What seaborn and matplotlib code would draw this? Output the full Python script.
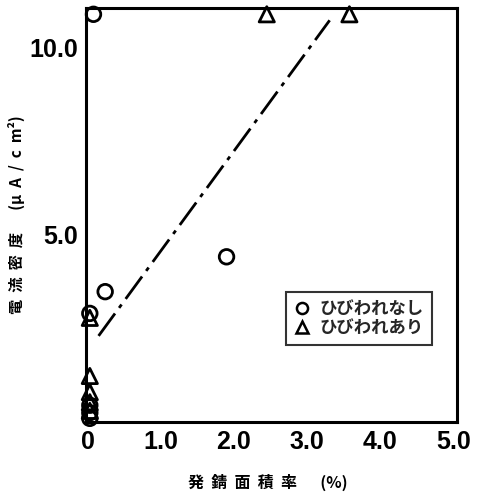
import matplotlib
matplotlib.use("Agg")
import matplotlib.pyplot as plt
import seaborn as sns
import pandas as pd
from matplotlib.lines import Line2D

sns.set_theme(style="white")
plt.rcParams['font.family'] = ['Noto Sans CJK JP', 'DejaVu Sans']

# Data
circle_x = [0.08, 1.90, 0.24, 0.03, 0.03, 0.03, 0.03]
circle_y = [10.88, 4.41, 3.48, 2.90, 0.45, 0.25, 0.10]
tri_x = [2.45, 3.58, 0.03, 0.03, 0.03, 0.03, 0.03]
tri_y = [10.88, 10.88, 2.78, 1.23, 0.80, 0.53, 0.30]
line_x = [0.15, 3.31]
line_y = [2.30, 10.72]
xticks = [0, 1.0, 2.0, 3.0, 4.0, 5.0]
xticklabels = ["0", "1.0", "2.0", "3.0", "4.0", "5.0"]
yticks = [5.0, 10.0]
yticklabels = ["5.0", "10.0"]
legend_labels = ["ひびわれなし", "ひびわれあり"]
xlabel = "発  錆  面  積  率　  (%)"
ylabel = "電  流  密  度　  (μ  A  /  c  m²)"

fig = plt.figure(figsize=(4.84, 4.96), dpi=100)
ax = fig.add_axes([0.178, 0.149, 0.766, 0.835])

df_c = pd.DataFrame({"x": circle_x, "y": circle_y})
df_t = pd.DataFrame({"x": tri_x, "y": tri_y})
df_l = pd.DataFrame({"x": line_x, "y": line_y})

sns.lineplot(data=df_l, x="x", y="y", ax=ax, color="black", linewidth=2.0,
             linestyle=(0, (10, 2.5, 1.5, 2.5)))
sns.scatterplot(data=df_c, x="x", y="y", ax=ax, marker="o", s=110,
                facecolors="none", edgecolor="black", linewidth=2.0, clip_on=False, zorder=5)
sns.scatterplot(data=df_t, x="x", y="y", ax=ax, marker="^", s=120,
                facecolors="none", edgecolor="black", linewidth=2.0, clip_on=False, zorder=5)

ax.set_xlim(-0.02, 5.05)
ax.set_ylim(0, 11.05)
ax.set_xticks(xticks)
ax.set_xticklabels(xticklabels)
ax.set_yticks(yticks)
ax.set_yticklabels(yticklabels)
ax.tick_params(axis="both", length=0, labelsize=18, pad=6, labelcolor="black")
for lbl in ax.get_xticklabels() + ax.get_yticklabels():
    lbl.set_family(['Liberation Sans', 'DejaVu Sans'])
    lbl.set_fontweight("bold")
ax.set_xlabel(xlabel, fontsize=11.5, fontweight="bold", color="black")
ax.set_ylabel(ylabel, fontsize=11, fontweight="bold", color="black")
ax.xaxis.set_label_coords(0.49, -0.125)
ax.yaxis.set_label_coords(-0.165, 0.5)
for sp in ax.spines.values():
    sp.set_linewidth(2.2)
    sp.set_color("black")

handles = [
    Line2D([], [], marker="o", linestyle="none", markerfacecolor="none",
           markeredgecolor="black", markeredgewidth=1.8, markersize=8),
    Line2D([], [], marker="^", linestyle="none", markerfacecolor="none",
           markeredgecolor="black", markeredgewidth=1.8, markersize=8),
]
leg = ax.legend(handles, legend_labels, loc="upper left",
                bbox_to_anchor=(0.515, 0.335), frameon=True, fancybox=False,
                prop={"size": 12.5, "weight": "bold"}, handletextpad=0.5,
                borderpad=0.45, labelspacing=0.05, handlelength=1.0)
leg.get_frame().set_edgecolor("black")
leg.get_frame().set_linewidth(1.5)

fig.savefig("out.png", dpi=100)
